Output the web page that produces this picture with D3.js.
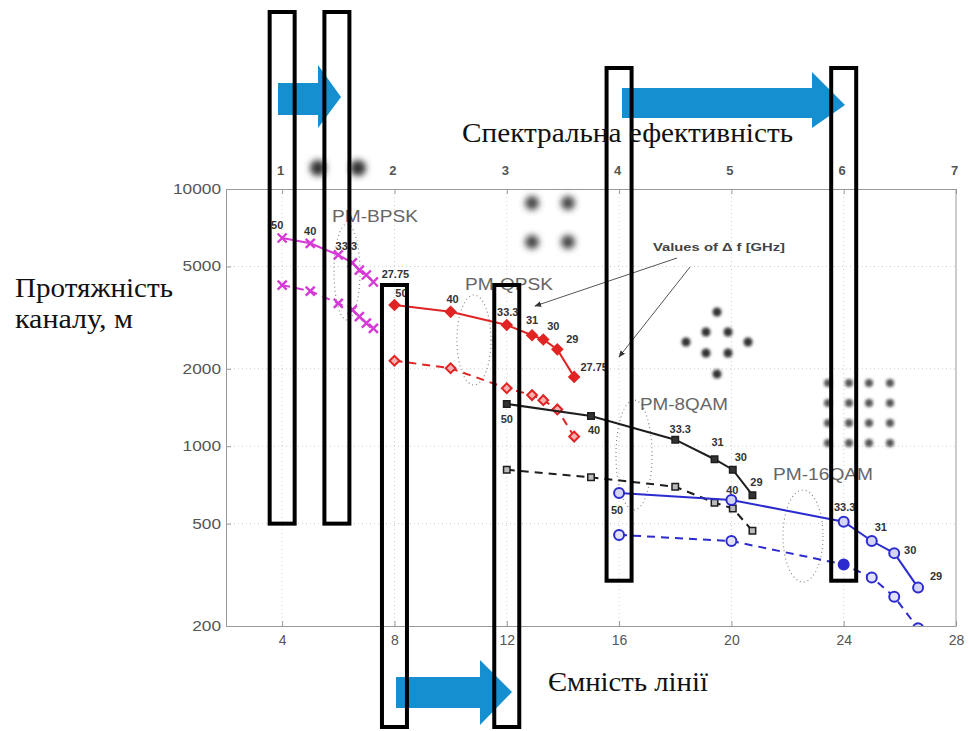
<!DOCTYPE html>
<meta charset="utf-8">
<style>
  body { margin: 0; background: #fff; }
</style>
<svg width="969" height="731"></svg>
<script src="https://d3js.org/d3.v7.min.js"></script>
<script>
// channel spacing labels (values of Δf, GHz) shown next to the points
const dfLabels = ["50", "40", "33.3", "31", "30", "29", "27.75"];

// capacity (bottom axis) for each point
const bpskCap  = [4, 5, 6, 6.5, 6.75, 7, 7.25];
const qpskCap  = [8, 10, 12, 12.9, 13.3, 13.8, 14.4];
const qam8Cap  = [12, 15, 18, 19.4, 20.05, 20.75];
const qam16Cap = [16, 20, 24, 25, 25.8, 26.65];

// reach (left axis, log) – solid and dashed curves
const bpskSolid   = [6450, 6150, 5540, 5160, 4840, 4630, 4350];
const bpskDashed  = [4230, 4010, 3590, 3390, 3190, 3010, 2870];
const qpskSolid   = [3540, 3330, 2960, 2700, 2600, 2380, 1860];
const qpskDashed  = [2150, 2010, 1680, 1580, 1510, 1390, 1090];
const qam8Solid   = [1460, 1310, 1060, 890, 810, 645];
const qam8Dashed  = [810, 757, 696, 603, 573, 469];
const qam16Solid  = [658, 618, 509, 428, 384, 282];
const qam16Dashed = [452, 428, 347, 309, 260, 196];

const modNames = ["PM-BPSK", "PM-QPSK", "PM-8QAM", "PM-16QAM"];

const xTicks = [4, 8, 12, 16, 20, 24, 28];
const yTicks = [200, 500, 1000, 2000, 5000, 10000];
const seTicks = [1, 2, 3, 4, 5, 6, 7];   // spectral efficiency (top axis)

// capacities that are boxed on the picture
const boxedCap = [4, 5.95, 8, 12, 16, 24];

const svg = d3.select("svg");
const x = d3.scaleLinear().domain([2, 28]).range([226, 956]);
const se = d3.scaleLinear().domain([0.5, 7]).range([226, 956]);
const y = d3.scaleLog().domain([200, 10000]).range([626, 189]);

const sans = "'Liberation Sans', Arial, sans-serif";
const serif = "'Liberation Serif', 'Times New Roman', serif";

const defs = svg.append("defs");
defs.append("clipPath").attr("id", "plot")
  .append("rect").attr("x", 226).attr("y", 189).attr("width", 730).attr("height", 437);
defs.append("filter").attr("id", "blur").attr("x", "-100%").attr("y", "-100%")
  .attr("width", "300%").attr("height", "300%")
  .append("feGaussianBlur").attr("stdDeviation", 3);
defs.append("filter").attr("id", "blur2").attr("x", "-100%").attr("y", "-100%")
  .attr("width", "300%").attr("height", "300%")
  .append("feGaussianBlur").attr("stdDeviation", 1.8);
defs.append("marker").attr("id", "head").attr("viewBox", "0 0 10 10")
  .attr("refX", 9).attr("refY", 5).attr("markerWidth", 7).attr("markerHeight", 7)
  .attr("orient", "auto")
  .append("path").attr("d", "M0,1L10,5L0,9z").attr("fill", "#333");

// grid
const grid = svg.append("g").attr("stroke", "#cfcfcf").attr("stroke-dasharray", "1,3");
grid.selectAll(".gx").data(xTicks.slice(0, -1)).join("line")
  .attr("x1", d => x(d)).attr("x2", d => x(d)).attr("y1", 189).attr("y2", 626);
grid.selectAll(".gy").data(yTicks.slice(1, -1)).join("line")
  .attr("y1", d => y(d)).attr("y2", d => y(d)).attr("x1", 226).attr("x2", 956);

// axes
const axB = svg.append("g").attr("transform", "translate(0,626)")
  .call(d3.axisBottom(x).tickValues(xTicks).tickSizeInner(-5).tickSizeOuter(0).tickPadding(9));
const axL = svg.append("g").attr("transform", "translate(226,0)")
  .call(d3.axisLeft(y).tickValues(yTicks).tickFormat(d3.format("d")).tickSizeInner(-5).tickSizeOuter(0).tickPadding(5));
const axT = svg.append("g").attr("transform", "translate(0,189)")
  .call(d3.axisTop(se).tickValues(seTicks).tickFormat(d3.format("d")).tickSizeInner(-5).tickSizeOuter(0).tickPadding(14));
svg.append("line").attr("x1", 956).attr("x2", 956).attr("y1", 189).attr("y2", 626).attr("stroke", "#999");
[axB, axL, axT].forEach(a => {
  a.select(".domain").attr("stroke", "#999");
  a.selectAll(".tick line").attr("stroke", "#999");
  a.selectAll("text").attr("fill", "#555").attr("font-family", sans).attr("font-size", 14);
});
axT.selectAll("text").attr("font-weight", "bold").attr("font-size", 13).attr("dx", -2);
axL.selectAll("text").attr("textLength", d => String(d).length * 9.6).attr("lengthAdjust", "spacingAndGlyphs");

// dotted ellipses grouping the curves
const ell = svg.append("g").attr("fill", "none").attr("stroke", "#888")
  .attr("stroke-dasharray", "1,3").attr("stroke-width", 1.2);
[[347, 272, 13, 48], [474, 340, 17, 45], [634, 455, 18, 55], [803, 536, 20, 46]].forEach(e =>
  ell.append("ellipse").attr("cx", e[0]).attr("cy", e[1]).attr("rx", e[2]).attr("ry", e[3]));

// blurred constellation sketches
const cons = svg.append("g").attr("fill", "#333");
[[318, 168], [358, 168]].forEach(p => cons.append("circle").attr("cx", p[0]).attr("cy", p[1]).attr("r", 8).attr("filter", "url(#blur)"));
[[532, 203], [568, 203], [532, 242], [568, 242]].forEach(p => cons.append("circle").attr("cx", p[0]).attr("cy", p[1]).attr("r", 7).attr("fill", "#444").attr("filter", "url(#blur)"));
[[717, 312], [706, 332], [728, 332], [686, 342], [748, 342], [706, 353], [728, 353], [717, 374]]
  .forEach(p => cons.append("circle").attr("cx", p[0]).attr("cy", p[1]).attr("r", 4.5).attr("filter", "url(#blur2)"));
[828, 849, 869, 890].forEach(cx => [383, 403, 423, 443].forEach(cy =>
  cons.append("circle").attr("cx", cx).attr("cy", cy).attr("r", 4).attr("fill", "#555").attr("filter", "url(#blur2)")));

// series
const series = [
  { cap: bpskCap, solid: bpskSolid, dashed: bpskDashed, color: "#d63ad6", mark: "x",
    show: [0, 1, 2, 6], off: [[-5, -13], [0, -12], [8, -9], null, null, null, [22, -8]] },
  { cap: qpskCap, solid: qpskSolid, dashed: qpskDashed, color: "#e02424", mark: "diamond",
    show: [0, 1, 2, 3, 4, 5, 6], off: [[7, -12], [2, -13], [1, -13], [0, -15], [10, -13], [15, -10], [20, -10]] },
  { cap: qam8Cap, solid: qam8Solid, dashed: qam8Dashed, color: "#1e1e1e", mark: "square",
    show: [0, 1, 2, 3, 4, 5], off: [[0, 15], [3, 14], [5, -11], [3, -17], [8, -13], [4, -13]] },
  { cap: qam16Cap, solid: qam16Solid, dashed: qam16Dashed, color: "#2b2bcf", mark: "circle",
    show: [0, 1, 2, 3, 4, 5], off: [[-2, 17], [1, -10], [1, -15], [9, -14], [16, -3], [18, -12]] }
];

const line = d3.line().x(d => x(d[0])).y(d => y(d[1]));
const plot = svg.append("g").attr("clip-path", "url(#plot)");

function drawMarks(g, pts, s, solid) {
  pts.forEach((p, i) => {
    const cx = x(p[0]), cy = y(p[1]);
    if (s.mark === "x") {
      g.append("path").attr("d", `M${cx - 4.5},${cy - 4.5}L${cx + 4.5},${cy + 4.5}M${cx - 4.5},${cy + 4.5}L${cx + 4.5},${cy - 4.5}`)
        .attr("stroke", s.color).attr("stroke-width", 2.4);
    } else if (s.mark === "diamond") {
      g.append("path").attr("d", d3.symbol(d3.symbolSquare, 48)())
        .attr("transform", `translate(${cx},${cy}) rotate(45)`)
        .attr("fill", solid ? s.color : "#f6b0b0").attr("stroke", s.color).attr("stroke-width", 2);
    } else if (s.mark === "square") {
      g.append("path").attr("d", d3.symbol(d3.symbolSquare, 42)())
        .attr("transform", `translate(${cx},${cy})`)
        .attr("fill", solid ? "#333" : "#bbb").attr("stroke", s.color).attr("stroke-width", 1.5);
    } else {
      // the dashed 16QAM point at 24 is drawn filled on the picture
      const fill = solid ? "#d4d4f6" : (i === 2 ? s.color : "#e2e2fa");
      g.append("circle").attr("cx", cx).attr("cy", cy).attr("r", 5)
        .attr("fill", fill).attr("stroke", s.color).attr("stroke-width", 2);
    }
  });
}

series.forEach(s => {
  const ptsS = s.cap.map((c, i) => [c, s.solid[i]]);
  const ptsD = s.cap.map((c, i) => [c, s.dashed[i]]);
  plot.append("path").attr("d", line(ptsD)).attr("fill", "none").attr("stroke", s.color)
    .attr("stroke-width", 2).attr("stroke-dasharray", "8,6");
  plot.append("path").attr("d", line(ptsS)).attr("fill", "none").attr("stroke", s.color)
    .attr("stroke-width", 2);
  drawMarks(plot, ptsD, s, false);
  drawMarks(plot, ptsS, s, true);
  s.show.forEach(i => {
    const o = s.off[i];
    svg.append("text").attr("x", x(s.cap[i]) + o[0]).attr("y", y(s.solid[i]) + o[1])
      .attr("text-anchor", "middle").attr("dominant-baseline", "central")
      .attr("font-family", sans).attr("font-size", 11).attr("font-weight", "bold")
      .attr("fill", "#333").text(dfLabels[i]);
  });
});

// modulation names
[[332, 222, 86], [465, 290, 88], [640, 410, 88], [773, 480, 100]].forEach((p, i) =>
  svg.append("text").attr("x", p[0]).attr("y", p[1]).attr("textLength", p[2])
    .attr("lengthAdjust", "spacingAndGlyphs").attr("font-family", sans).attr("font-size", 16)
    .attr("fill", "#666").text(modNames[i]));

// Δf annotation
svg.append("text").attr("x", 653).attr("y", 251).attr("textLength", 132)
  .attr("lengthAdjust", "spacingAndGlyphs").attr("font-family", sans).attr("font-size", 10)
  .attr("font-weight", "bold").attr("fill", "#444").text("Values of \u0394 f [GHz]");
svg.append("line").attr("x1", 677).attr("y1", 258).attr("x2", 535).attr("y2", 306)
  .attr("stroke", "#555").attr("marker-end", "url(#head)");
svg.append("line").attr("x1", 690).attr("y1", 267).attr("x2", 619).attr("y2", 357)
  .attr("stroke", "#555").attr("marker-end", "url(#head)");

// blue arrows
const blue = "#168fd0";
[
  [[278, 83], [318, 83], [318, 65], [341, 97], [318, 128], [318, 115], [278, 115]],
  [[622, 88], [812, 88], [812, 72], [845, 105], [812, 128], [812, 118], [622, 118]],
  [[396, 677], [480, 677], [480, 660], [512, 692], [480, 725], [480, 708], [396, 708]]
].forEach(pts => svg.append("polygon").attr("points", pts.map(p => p.join(",")).join(" ")).attr("fill", blue));

// black highlight boxes
const boxTop = [12, 12, 285, 285, 68, 68];
const boxBottom = [y(500), y(500), 727, 727, y(300), y(300)];
boxedCap.forEach((c, i) =>
  svg.append("rect").attr("x", x(c) - 12.5).attr("y", boxTop[i]).attr("width", 25)
    .attr("height", boxBottom[i] - boxTop[i]).attr("fill", "none")
    .attr("stroke", "#000").attr("stroke-width", 4));

// Ukrainian captions
[["Спектральна ефективність", 462, 142, 331],
 ["Протяжність", 15, 297, 158],
 ["каналу, м", 15, 328, 118],
 ["Ємність лінії", 548, 691, 160]].forEach(t =>
  svg.append("text").attr("x", t[1]).attr("y", t[2]).attr("textLength", t[3])
    .attr("lengthAdjust", "spacingAndGlyphs").attr("font-family", serif).attr("font-size", 27)
    .attr("fill", "#111").text(t[0]));
</script>
